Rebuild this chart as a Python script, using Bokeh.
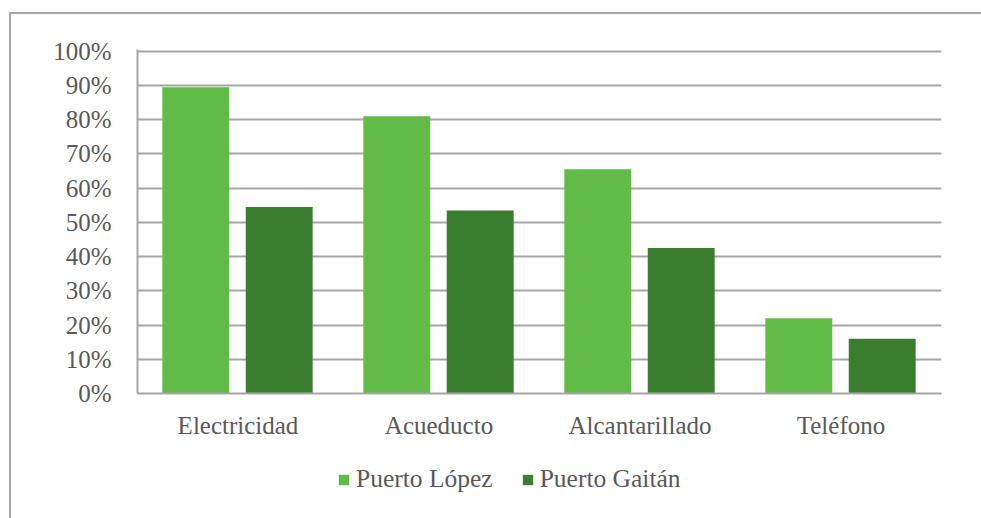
from bokeh.plotting import figure
from bokeh.layouts import column
from bokeh.models import FactorRange, ColumnDataSource, NumeralTickFormatter, Legend, LegendItem, FixedTicker, Range1d
from bokeh.transform import dodge
from bokeh.embed import file_html
from bokeh.resources import INLINE

categories = ["Electricidad", "Acueducto", "Alcantarillado", "Teléfono"]
puerto_lopez = [0.895, 0.81, 0.655, 0.22]
puerto_gaitan = [0.545, 0.535, 0.425, 0.16]
y_ticks = [i / 10 for i in range(11)]
series_names = ["Puerto López", "Puerto Gaitán"]

FONT = "Liberation Serif"
TXT = "#595959"
GRID = "#a6a6a6"
C1 = "#62bb46"
C2 = "#3a7d2f"

src = ColumnDataSource(dict(cat=categories, pl=puerto_lopez, pg=puerto_gaitan))

W = 970
p = figure(
    x_range=FactorRange(factors=categories),
    y_range=Range1d(0, 1.005),
    width=W, height=436,
    output_backend="svg", toolbar_location=None,
    min_border_left=126, min_border_right=40, min_border_top=35, min_border_bottom=57,
)
p.outline_line_color = None
p.background_fill_color = "white"

p.vbar(x=dodge("cat", -0.21, range=p.x_range), top="pl", width=0.333, source=src,
       fill_color=C1, line_color=None)
p.vbar(x=dodge("cat", 0.205, range=p.x_range), top="pg", width=0.333, source=src,
       fill_color=C2, line_color=None)

p.xgrid.grid_line_color = None
p.ygrid.grid_line_color = GRID
p.ygrid.grid_line_width = 2
p.yaxis.ticker = FixedTicker(ticks=y_ticks)
p.yaxis.formatter = NumeralTickFormatter(format="0%")

for ax in (p.xaxis, p.yaxis):
    ax.axis_line_color = GRID
    ax.axis_line_width = 2
    ax.major_tick_line_color = None
    ax.minor_tick_line_color = None
    ax.major_label_text_font = FONT
    ax.major_label_text_font_size = "25px"
    ax.major_label_text_color = TXT
p.yaxis.major_label_standoff = 20
p.xaxis.major_label_standoff = 12

# legend strip (swatch renderers sit outside the strip's visible range)
lf = figure(width=W, height=68, x_range=(0, 1), y_range=(0, 1),
            output_backend="svg", toolbar_location=None,
            x_axis_type=None, y_axis_type=None,
            min_border_left=126, min_border_right=40, min_border_top=0, min_border_bottom=0)
lf.outline_line_color = None
lf.grid.grid_line_color = None
swatch = ColumnDataSource(dict(x=[-5], top=[-5]))
g1 = lf.vbar(x="x", top="top", width=0.1, source=swatch, fill_color=C1, line_color=None)
g2 = lf.vbar(x="x", top="top", width=0.1, source=swatch, fill_color=C2, line_color=None)

legend = Legend(items=[LegendItem(label=series_names[0], renderers=[g1]),
                       LegendItem(label=series_names[1], renderers=[g2])],
                orientation="horizontal", location=(200, 24))
legend.label_text_font = FONT
legend.label_text_font_size = "25.5px"
legend.label_text_color = TXT
legend.glyph_width = 13
legend.glyph_height = 13
legend.label_standoff = 6
legend.spacing = 28
legend.border_line_color = None
legend.background_fill_alpha = 0
legend.margin = 0
legend.padding = 0
lf.add_layout(legend)

layout = column(p, lf, spacing=0, margin=(12, 0, 0, 9),
                styles={"border-left": "2px solid #a6a6a6", "border-top": "2px solid #a6a6a6"})

open("out.html", "w").write(file_html(layout, INLINE))
